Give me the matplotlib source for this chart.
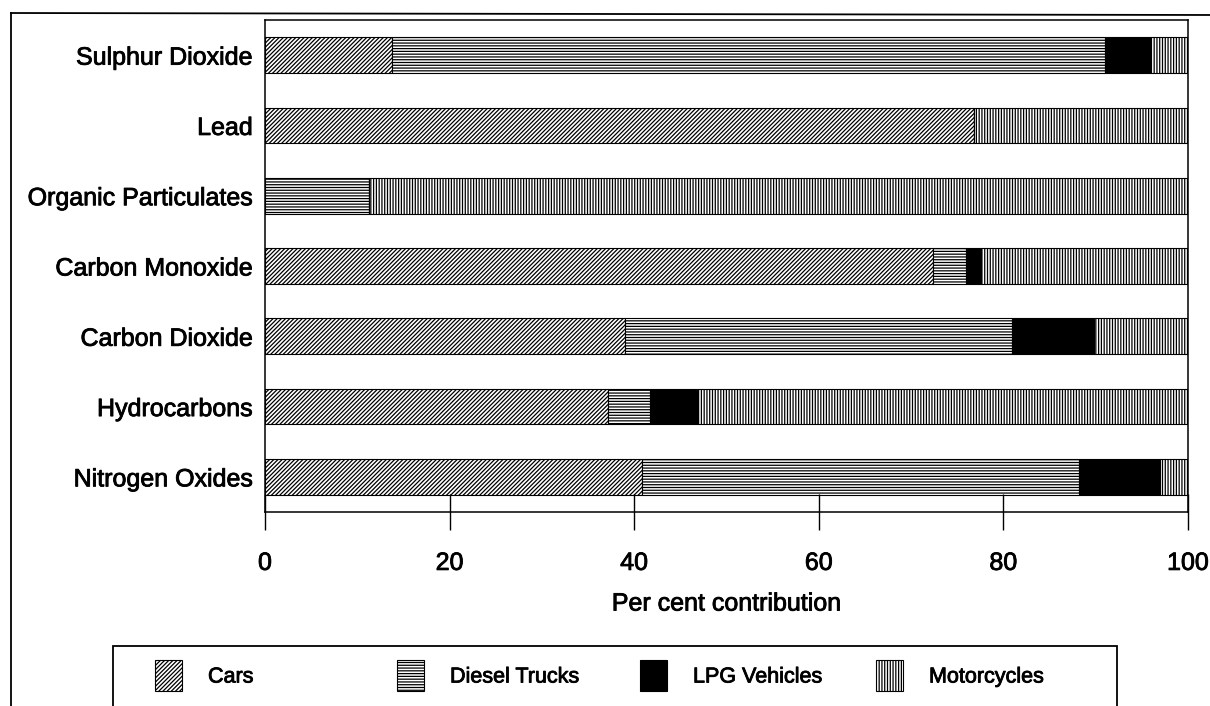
import matplotlib
matplotlib.use('Agg')
import matplotlib.pyplot as plt
import matplotlib.patheffects as pe
from matplotlib.patches import Rectangle
from matplotlib.lines import Line2D
import numpy as np

plt.rcParams['font.family'] = ['Liberation Sans', 'DejaVu Sans']
plt.rcParams['hatch.linewidth'] = 0.9

# data (top to bottom as shown)
pollutants = ['Sulphur Dioxide', 'Lead', 'Organic Particulates', 'Carbon Monoxide',
              'Carbon Dioxide', 'Hydrocarbons', 'Nitrogen Oxides']
cars = [13.8, 76.8, 0.0, 72.4, 39.0, 37.2, 40.8]
diesel_trucks = [77.2, 0.0, 11.3, 3.5, 41.9, 4.5, 47.4]
lpg_vehicles = [5.0, 0.0, 0.0, 1.7, 8.9, 5.1, 8.8]
motorcycles = [4.0, 23.2, 88.7, 22.4, 10.2, 53.2, 3.0]

series = [('Cars', cars, 'white', '////////'),
          ('Diesel Trucks', diesel_trucks, 'white', '------'),
          ('LPG Vehicles', lpg_vehicles, 'black', None),
          ('Motorcycles', motorcycles, 'white', '||||||')]

W, H = 1210, 706
fig = plt.figure(figsize=(W / 100, H / 100), dpi=100)

heavy = [pe.withStroke(linewidth=0.6, foreground='black')]


def fx(px):
    return px / W


def fy(py):
    return 1 - py / H


ax = fig.add_axes([fx(265), fy(512), fx(1188) - fx(265), fy(20) - fy(512)])

ypos = np.arange(len(pollutants))
left = np.zeros(len(pollutants))
for name, vals, fc, hatch in series:
    vals = np.array(vals)
    ax.barh(ypos, vals, left=left, height=0.51, color=fc, edgecolor='black',
            linewidth=0.8, hatch=hatch, label=name)
    left += vals

ax.set_xlim(0, 100)
ax.set_ylim(-0.5, len(pollutants) - 0.5)
ax.invert_yaxis()
ax.set_yticks(ypos)
ax.set_yticklabels(pollutants, fontsize=18)
ax.set_xticks([0, 20, 40, 60, 80, 100])
ax.tick_params(axis='y', length=0, pad=9)
ax.tick_params(axis='x', direction='inout', length=26, width=1, pad=15, labelsize=18)
ax.set_xlabel('Per cent contribution', fontsize=18, labelpad=12)
for lab in ax.get_xticklabels() + ax.get_yticklabels() + [ax.xaxis.label]:
    lab.set_path_effects(heavy)
for s in ax.spines.values():
    s.set_linewidth(1.1)

# outer frame
fig.add_artist(Line2D([fx(11), fx(1215)], [fy(13), fy(15)], color='black', lw=1.3))
fig.add_artist(Line2D([fx(11), fx(11)], [fy(13), fy(710)], color='black', lw=1.3))

# legend box drawn by hand
fig.add_artist(Rectangle((fx(113), fy(708)), fx(1117) - fx(113), fy(646) - fy(708),
                         transform=fig.transFigure, facecolor='none',
                         edgecolor='black', lw=1.3))
patch_x = [155, 397, 640, 876]
for (name, vals, fc, hatch), px in zip(series, patch_x):
    fig.add_artist(Rectangle((fx(px), fy(691)), fx(27), fy(660) - fy(691),
                             transform=fig.transFigure, facecolor=fc,
                             edgecolor='black', lw=0.8, hatch=hatch))
    fig.text(fx(px + 53), fy(677), name, fontsize=15.5, ha='left', va='center',
             path_effects=heavy)

plt.savefig('out.png', dpi=100, facecolor='white')
